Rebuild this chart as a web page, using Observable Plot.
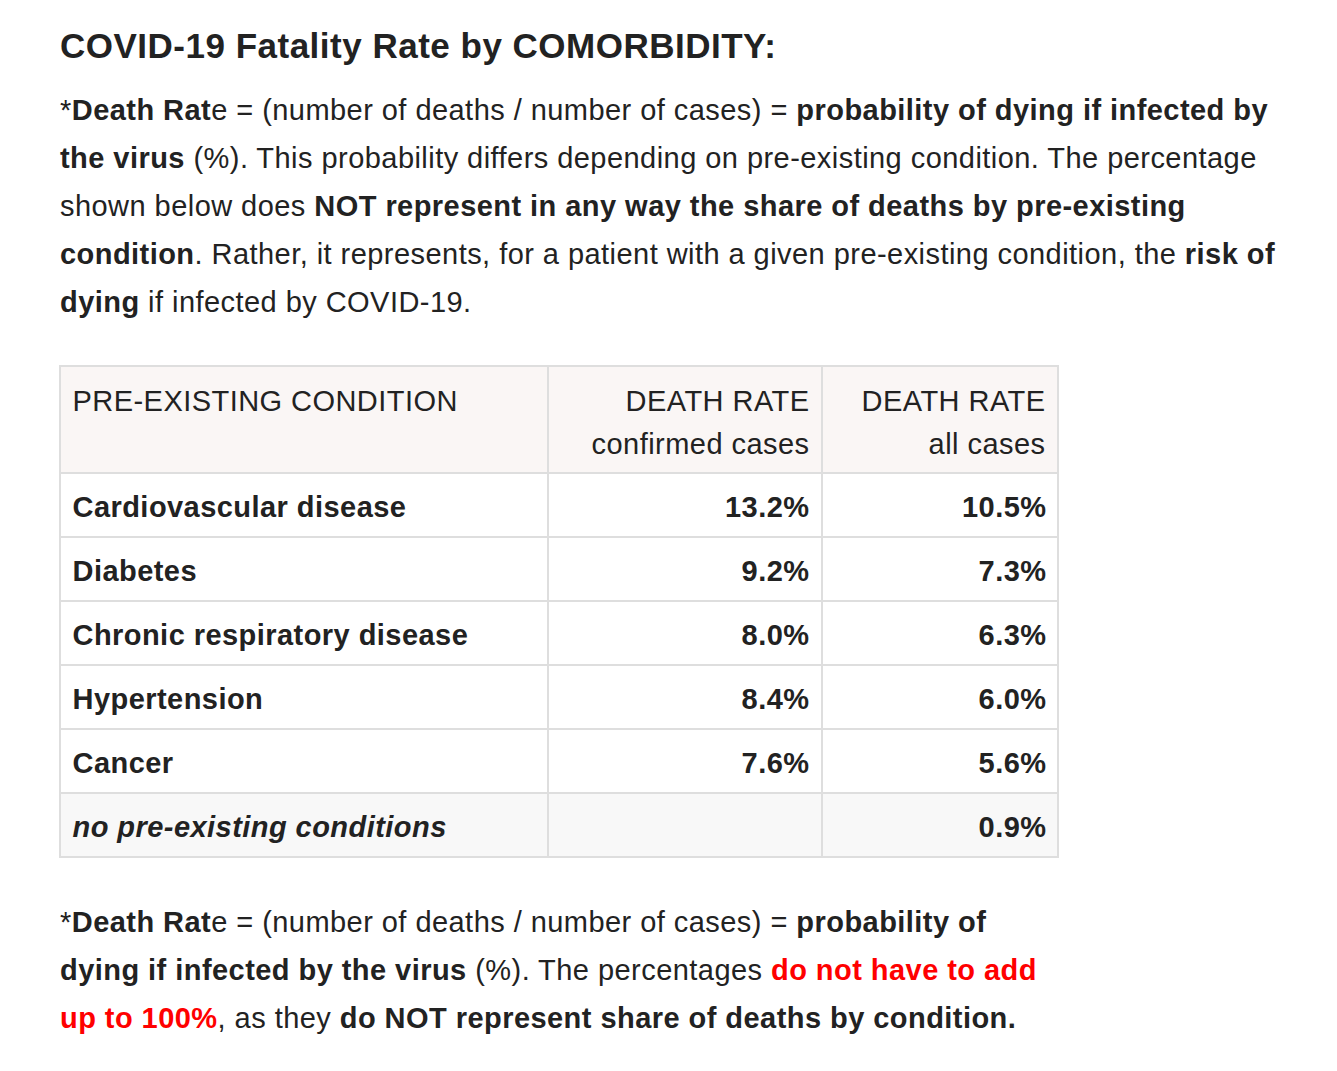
<!DOCTYPE html>
<html>
<head>
<meta charset="utf-8">
<script src="https://cdn.jsdelivr.net/npm/d3@7"></script>
<script src="https://cdn.jsdelivr.net/npm/@observablehq/plot@0.6"></script>
<style>
  html, body { margin: 0; padding: 0; background: #fff; }
  body { width: 1337px; height: 1071px; position: relative; overflow: hidden;
         font-family: "Liberation Sans", Arial, Helvetica, sans-serif; color: #222; }
  .title { position: absolute; left: 60px; top: 26px; font-size: 35px; letter-spacing: 0.5px; line-height: 40px; font-weight: bold; white-space: nowrap; }
  .para { position: absolute; left: 60px; font-size: 29px; letter-spacing: 0.45px; line-height: 48px; white-space: nowrap; }
  .red { color: #f00; }
  #chart { position: absolute; left: 0; top: 360px; }
</style>
</head>
<body>
<div class="title">COVID-19 Fatality Rate by COMORBIDITY:</div>
<div class="para" style="top:86px">*<b>Death Rat</b>e = (number of deaths / number of cases) = <b>probability of dying if infected by</b><br><b>the virus</b> (%). This probability differs depending on pre-existing condition. The percentage<br>shown below does <b>NOT represent in any way the share of deaths by pre-existing</b><br><b>condition</b>. Rather, it represents, for a patient with a given pre-existing condition, the <b>risk of</b><br><b>dying</b> if infected by COVID-19.</div>
<div id="chart"></div>
<div class="para" style="top:898px">*<b>Death Rat</b>e = (number of deaths / number of cases) = <b>probability of</b><br><b>dying if infected by the virus</b> (%). The percentages <b class="red">do not have to add</b><br><b class="red">up to 100%</b>, as they <b>do NOT represent share of deaths by condition.</b></div>
<script>
// ---- data ----
const conditions = ["Cardiovascular disease", "Diabetes", "Chronic respiratory disease", "Hypertension", "Cancer", "no pre-existing conditions"];
const confirmedRate = [13.2, 9.2, 8.0, 8.4, 7.6, null];
const allCasesRate = [10.5, 7.3, 6.3, 6.0, 5.6, 0.9];
const headerLabels = ["PRE-EXISTING CONDITION", "DEATH RATE\nconfirmed cases", "DEATH RATE\nall cases"];

// ---- layout (pixels within the svg) ----
const W = 1337, H = 510;
const colEdges = [60, 548, 822, 1058];
const headTop = 6, headH = 107, rowH = 64;
const pad = 12;
const FS = 29;
const fontFamily = "Liberation Sans, Arial, Helvetica, sans-serif";

const rows = conditions.map((c, i) => ({
  i, condition: c, confirmed: confirmedRate[i], all: allCasesRate[i],
  y1: headTop + headH + i * rowH, y2: headTop + headH + (i + 1) * rowH,
  last: i === conditions.length - 1
}));

const cells = [];
rows.forEach(r => {
  for (let c = 0; c < 3; c++) cells.push({x1: colEdges[c], x2: colEdges[c + 1], y1: r.y1, y2: r.y2, fill: r.last ? "#f8f8f8" : "#ffffff"});
});
const headCells = headerLabels.map((h, c) => ({x1: colEdges[c], x2: colEdges[c + 1], y1: headTop, y2: headTop + headH, label: h, c}));

const fmt = v => v == null ? "" : v.toFixed(1) + "%";
const midY = d => (d.y1 + d.y2) / 2 + 2;

const chart = Plot.plot({
  width: W, height: H,
  margin: 0,
  x: {type: "identity"},
  y: {type: "identity"},
  style: {fontFamily, color: "#222", letterSpacing: "0.45px"},
  marks: [
    Plot.rect(headCells, {x1: "x1", x2: "x2", y1: "y1", y2: "y2", fill: "#faf6f5", stroke: "#dedede", strokeWidth: 2}),
    Plot.rect(cells, {x1: "x1", x2: "x2", y1: "y1", y2: "y2", fill: "fill", stroke: "#dedede", strokeWidth: 2}),
    Plot.text(headCells.filter(d => d.c === 0), {
      x: d => d.x1 + pad, y: d => d.y1 + 14,
      text: "label", textAnchor: "start",
      lineAnchor: "top", lineHeight: 43 / FS,
      fontSize: FS, fill: "#222"
    }),
    Plot.text(headCells.filter(d => d.c > 0), {
      x: d => d.x2 - pad - 1, y: d => d.y1 + 14,
      text: "label", textAnchor: "end",
      lineAnchor: "top", lineHeight: 43 / FS,
      fontSize: FS, fill: "#222"
    }),
    Plot.text(rows.filter(r => !r.last), {
      x: colEdges[0] + pad, y: midY,
      text: "condition", textAnchor: "start", fontSize: FS, fontWeight: "bold", fill: "#222"
    }),
    Plot.text(rows.filter(r => r.last), {
      x: colEdges[0] + pad, y: midY,
      text: "condition", textAnchor: "start", fontSize: FS, fontWeight: "bold", fontStyle: "italic", fill: "#222"
    }),
    Plot.text(rows, {
      x: colEdges[2] - pad - 1, y: midY,
      text: d => fmt(d.confirmed), textAnchor: "end", fontSize: FS, fontWeight: "bold", fill: "#222"
    }),
    Plot.text(rows, {
      x: colEdges[3] - pad, y: midY,
      text: d => fmt(d.all), textAnchor: "end", fontSize: FS, fontWeight: "bold", fill: "#222"
    })
  ]
});
document.getElementById("chart").appendChild(chart);
</script>
</body>
</html>
